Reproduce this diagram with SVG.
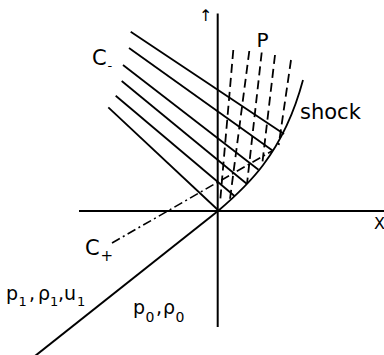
<svg xmlns="http://www.w3.org/2000/svg" width="384" height="355" viewBox="0 0 384 355">
<style>
.ln{stroke:#000;stroke-width:1.8;fill:none;stroke-linecap:butt}
.ax{stroke:#000;stroke-width:2;fill:none}
.ds{stroke:#000;stroke-width:1.8;fill:none;stroke-dasharray:9 5}
.dd{stroke:#000;stroke-width:1.6;fill:none;stroke-dasharray:9 3.5 2 3.5}
.t{font-family:"DejaVu Sans",sans-serif;fill:#000}
</style>
<rect width="384" height="355" fill="#fff"/>
<g id="axes">
<line class="ax" x1="79" y1="211" x2="384" y2="211"/>
<line class="ax" x1="217.7" y1="13.5" x2="217.7" y2="327"/>
<line class="ax" x1="218" y1="211" x2="35" y2="356"/>
</g>
<g id="shock">
<path class="ln" d="M218,211 C245,188 283,155 303,80"/>
</g>
<g id="c-minus">
<line class="ln" x1="130.7" y1="31.7" x2="284" y2="134"/>
<line class="ln" x1="129" y1="48" x2="272.5" y2="150.5"/>
<line class="ln" x1="123" y1="65" x2="258.5" y2="169.7"/>
<line class="ln" x1="121.7" y1="81" x2="247" y2="184"/>
<line class="ln" x1="115.7" y1="95.7" x2="234.5" y2="196"/>
<line class="ln" x1="108.3" y1="107.3" x2="218" y2="210"/>
</g>
<g id="dashed">
<line class="ds" x1="233.3" y1="50" x2="220" y2="203"/>
<line class="ds" x1="249.3" y1="51" x2="230" y2="199"/>
<line class="ds" x1="261.7" y1="52.5" x2="247" y2="184"/>
<line class="ds" x1="275" y1="55" x2="262" y2="166"/>
<line class="ds" x1="291" y1="60" x2="278.7" y2="145"/>
</g>
<g id="c-plus">
<line class="dd" x1="112" y1="243" x2="272" y2="151"/>
</g>
<g id="labels">
<text class="t" x="199" y="21" font-size="16">↑</text>
<text class="t" x="256.5" y="47" font-size="20">P</text>
<text class="t" x="92" y="65" font-size="21">C</text>
<text class="t" x="107.5" y="70" font-size="13">-</text>
<text class="t" x="85" y="255" font-size="21">C</text>
<text class="t" x="100.5" y="261" font-size="15">+</text>
<text class="t" x="300" y="118.5" font-size="21">shock</text>
<text class="t" x="374" y="228.5" font-size="16">X</text>
<text class="t" font-size="19"><tspan x="6" y="300">p</tspan><tspan x="18.5" y="306" font-size="13">1</tspan><tspan x="29" y="300">,</tspan><tspan x="38" y="300">ρ</tspan><tspan x="50" y="306" font-size="13">1</tspan><tspan x="58" y="300">,</tspan><tspan x="64" y="300">u</tspan><tspan x="77" y="306" font-size="13">1</tspan></text>
<text class="t" font-size="19"><tspan x="133" y="313.5">p</tspan><tspan x="145.5" y="321.5" font-size="14">0</tspan><tspan x="156" y="313.5">,</tspan><tspan x="163" y="313.5">ρ</tspan><tspan x="175.5" y="321.5" font-size="14">0</tspan></text>
</g>
</svg>
